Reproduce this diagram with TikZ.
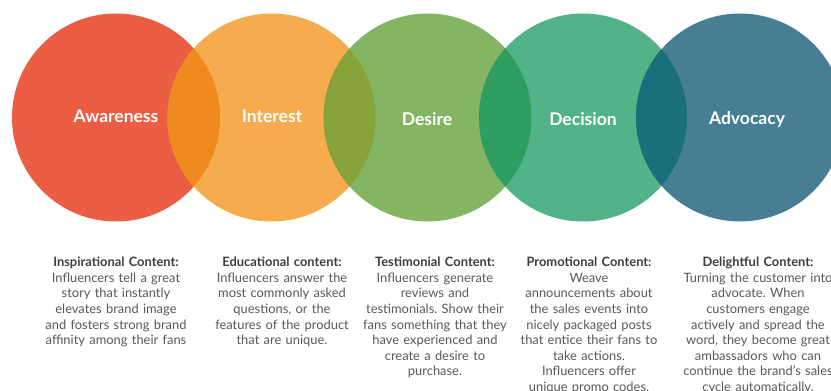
\documentclass[tikz,border=0pt]{standalone}
\usepackage{fontspec}
\setmainfont{Lato}
\frenchspacing
\definecolor{cAware}{HTML}{EB5E43}
\definecolor{cInter}{HTML}{F6AB4E}
\definecolor{cDesire}{HTML}{84B562}
\definecolor{cDecis}{HTML}{52B288}
\definecolor{cAdvoc}{HTML}{467F94}
\definecolor{oAI}{HTML}{EE8A20}
\definecolor{oID}{HTML}{88A33A}
\definecolor{oDD}{HTML}{2E9E61}
\definecolor{oDA}{HTML}{1A6F7A}
\definecolor{headtext}{HTML}{3E3E3E}
\definecolor{bodytext}{HTML}{595959}
\tikzset{
  stage/.style={circle, minimum size=208pt, inner sep=0pt, draw=none, fill=#1},
  stagelabel/.style={text=white, font=\fontsize{17.5}{20}\selectfont\bfseries, inner sep=0pt},
  coltext/.style={text width=170pt, align=center, anchor=north, inner sep=0pt,
    text=bodytext, font=\fontsize{12.9}{15.6}\selectfont},
}
\newcommand{\colhead}[1]{{\bfseries\color{headtext}#1}}
\begin{document}
\begin{tikzpicture}[x=1pt,y=-1pt]
\useasboundingbox (0,0) rectangle (831,391);
\clip (0,0) rectangle (831,391);
\fill[white] (0,0) rectangle (831,391);

% the five funnel stages
\node[stage=cAware] (c1) at (116,117.5) {};
\node[stage=cInter] (c2) at (271.5,117.5) {};
\node[stage=cDesire] (c3) at (427.5,117.5) {};
\node[stage=cDecis] (c4) at (583,117.5) {};
\node[stage=cAdvoc] (c5) at (740,117.5) {};

% lens-shaped overlaps between neighbouring stages
\begin{scope}
  \clip (c1.center) circle (104pt);
  \fill[oAI] (c2.center) circle (104pt);
\end{scope}
\begin{scope}
  \clip (c2.center) circle (104pt);
  \fill[oID] (c3.center) circle (104pt);
\end{scope}
\begin{scope}
  \clip (c3.center) circle (104pt);
  \fill[oDD] (c4.center) circle (104pt);
\end{scope}
\begin{scope}
  \clip (c4.center) circle (104pt);
  \fill[oDA] (c5.center) circle (104pt);
\end{scope}

% stage names
\node[stagelabel] (l1) at (116,116) {Awareness};
\node[stagelabel] (l2) at (272,116) {Interest};
\node[stagelabel] (l3) at (427,119) {Desire};
\node[stagelabel] (l4) at (583,119) {Decision};
\node[stagelabel] (l5) at (747,119) {Advocacy};

% content descriptions
\node[coltext] (t1) at (116,257) {\colhead{Inspirational Content:}\\
  Influencers tell a great\\ story that instantly\\ elevates brand image\\
  and fosters strong brand\\ affinity among their fans};
\node[coltext] (t2) at (282,257) {\colhead{Educational content:}\\
  Influencers answer the\\ most commonly asked\\ questions, or the\\
  features of the product\\ that are unique.};
\node[coltext] (t3) at (435,257) {\colhead{Testimonial Content:}\\
  Influencers generate\\ reviews and\\ testimonials. Show their\\
  fans something that they\\ have experienced and\\ create a desire to\\ purchase.};
\node[coltext] (t4) at (589,257) {\colhead{Promotional Content:}\\
  Weave\\ announcements about\\ the sales events into\\ nicely packaged posts\\
  that entice their fans to\\ take actions.\\ Influencers offer\\ unique promo codes.};
\node[coltext] (t5) at (758,257) {\colhead{Delightful Content:}\\
  Turning the customer into\\ advocate. When\\ customers engage\\
  actively and spread the\\ word, they become great\\ ambassadors who can\\
  continue the brand’s sales\\ cycle automatically.};
\end{tikzpicture}
\end{document}
